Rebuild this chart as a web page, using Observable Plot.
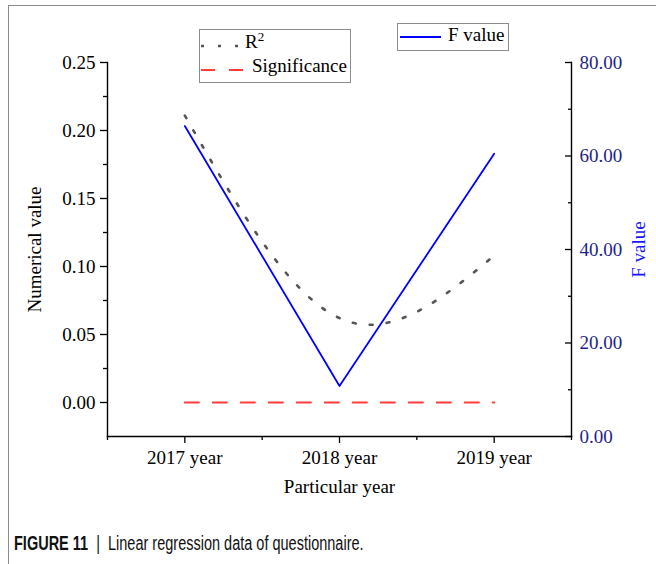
<!DOCTYPE html>
<html>
<head>
<meta charset="utf-8">
<script src="https://cdn.jsdelivr.net/npm/d3@7"></script>
<script src="https://cdn.jsdelivr.net/npm/@observablehq/plot@0.6"></script>
<style>
  html, body { margin: 0; padding: 0; background: #fff; }
  #wrap { position: relative; width: 656px; height: 564px; overflow: hidden; background: #fff; }
  #frame { position: absolute; left: 8px; top: 5px; right: -2px; bottom: -2px; border-left: 1px solid #8c8c8c; border-top: 1px solid #8c8c8c; }
  #chart { position: absolute; left: 0; top: 0; }
  .legend { position: absolute; border: 1px solid #8c8c8c; background: #fff; font-family: "Liberation Serif", "Times New Roman", serif; font-size: 19px; color: #000; box-sizing: border-box; }
  .legend svg { position: absolute; }
  .legend .lbl { position: absolute; white-space: nowrap; }
  sup { font-size: 13px; vertical-align: 0; position: relative; top: -7px; }
  #caption { position: absolute; left: 14px; top: 532px; font-family: "Liberation Sans", Arial, sans-serif; font-size: 20px; color: #111; white-space: nowrap; transform: scaleX(0.725); transform-origin: left center; }
  #caption b { font-weight: bold; }
</style>
</head>
<body>
<div id="wrap">
  <div id="frame"></div>
  <div id="chart"></div>
  <div class="legend" id="leg1" style="left:199px; top:29px; width:152px; height:54px;"></div>
  <div class="legend" id="leg2" style="left:397px; top:23px; width:112px; height:28px;"></div>
  <div id="caption"><b>FIGURE 11</b>&nbsp;&nbsp;|&nbsp;&nbsp;Linear regression data of questionnaire.</div>
</div>
<script>
// ---- data ----
const years = ["2017 year", "2018 year", "2019 year"];
const r2 = [0.211, 0.062, 0.108];
const significance = [0.0, 0.0, 0.0];
const fValue = [66.4, 10.8, 60.5];

const leftTicks = [0, 0.05, 0.10, 0.15, 0.20, 0.25];
const leftMinor = [0.025, 0.075, 0.125, 0.175, 0.225];
const rightTicks = [0, 20, 40, 60, 80];
const rightMinor = [10, 30, 50, 70];
const yDomain = [-0.025, 0.25];
const fDomain = [0, 80];

// ---- derived ----
const idx = d3.range(years.length);
const xMinor = d3.range(-0.5, years.length, 1);
const fToY = f => yDomain[0] + (f - fDomain[0]) / (fDomain[1] - fDomain[0]) * (yDomain[1] - yDomain[0]);
const yToF = y => fDomain[0] + (y - yDomain[0]) / (yDomain[1] - yDomain[0]) * (fDomain[1] - fDomain[0]);

const rows = idx.map(i => ({i, year: years[i], r2: r2[i], sig: significance[i], f: fValue[i], fy: fToY(fValue[i])}));

const serif = "Liberation Serif, Times New Roman, serif";

const chart = Plot.plot({
  width: 656,
  height: 500,
  marginTop: 62,
  marginBottom: 64,
  marginLeft: 107,
  marginRight: 85,
  style: {fontFamily: serif, fontSize: "19px", background: "transparent", color: "#000", overflow: "visible"},
  x: {domain: [xMinor[0], xMinor[xMinor.length - 1]]},
  y: {domain: yDomain},
  marks: [
    // bottom axis
    Plot.axisX({ticks: idx, tickFormat: i => years[i], tickSize: 7, tickPadding: 7, fontSize: 19, strokeWidth: 1.3, label: null}),
    Plot.axisX({ticks: xMinor, tickFormat: () => "", tickSize: 4, strokeWidth: 1.3, label: "Particular year", labelAnchor: "center", labelArrow: "none", labelOffset: 56, fontSize: 19}),
    // left axis
    Plot.axisY({ticks: leftTicks, tickFormat: d3.format(".2f"), tickSize: 7, tickPadding: 5, fontSize: 19, strokeWidth: 1.3, label: null}),
    Plot.axisY({ticks: leftMinor, tickFormat: () => "", tickSize: 4, strokeWidth: 1.3, label: "Numerical value", labelAnchor: "center", labelArrow: "none", labelOffset: 80, fontSize: 19}),
    // right axis (F value), ticks pointing inward
    Plot.axisY({anchor: "right", ticks: rightTicks.map(fToY), tickFormat: () => "", tickSize: -7, strokeWidth: 1.3, label: null}),
    Plot.axisY({anchor: "right", ticks: rightMinor.map(fToY), tickFormat: () => "", tickSize: -4, strokeWidth: 1.3, label: null}),
    Plot.axisY({anchor: "right", ticks: rightTicks.map(fToY), tickFormat: v => yToF(v).toFixed(2), tickSize: 0, tickPadding: 8, fill: "#1f1f8c", fontSize: 19, label: null}),
    Plot.axisY({anchor: "right", ticks: [], label: "F value", labelAnchor: "center", labelArrow: "none", labelOffset: 73, fill: "#1515ff", fontSize: 19}),
    // frame lines
    Plot.frame({anchor: "bottom", strokeWidth: 1.4}),
    Plot.frame({anchor: "left", strokeWidth: 1.4}),
    Plot.frame({anchor: "right", strokeWidth: 1.4}),
    // series
    Plot.line(rows, {x: "i", y: "sig", stroke: "#ff3b3b", strokeWidth: 2.2, strokeDasharray: "14,14"}),
    Plot.line(rows, {x: "i", y: "fy", stroke: "#0000ff", strokeWidth: 1.8}),
    Plot.line(rows, {x: "i", y: "r2", curve: "natural", stroke: "#555555", strokeWidth: 2.6, strokeDasharray: "3,14"})
  ]
});
document.getElementById("chart").appendChild(chart);

// ---- legends (HTML) ----
function sample(dash, color, width, len) {
  return `<svg width="${len}" height="6" style="overflow:visible"><line x1="0" y1="3" x2="${len}" y2="3" stroke="${color}" stroke-width="${width}" ${dash ? `stroke-dasharray="${dash}"` : ""}/></svg>`;
}
const leg1 = document.getElementById("leg1");
leg1.innerHTML =
  `<div style="position:absolute;left:1px;top:13px">${sample("3,14", "#555555", 2.6, 42)}</div>` +
  `<div class="lbl" style="left:45px;top:1px">R<sup>2</sup></div>` +
  `<div style="position:absolute;left:1px;top:37px">${sample("14,14", "#ff3b3b", 2.2, 44)}</div>` +
  `<div class="lbl" style="left:52px;top:25px">Significance</div>`;
const leg2 = document.getElementById("leg2");
leg2.innerHTML =
  `<div style="position:absolute;left:2px;top:10px">${sample(null, "#0000ff", 1.8, 41)}</div>` +
  `<div class="lbl" style="left:50px;top:0px">F value</div>`;
</script>
</body>
</html>
